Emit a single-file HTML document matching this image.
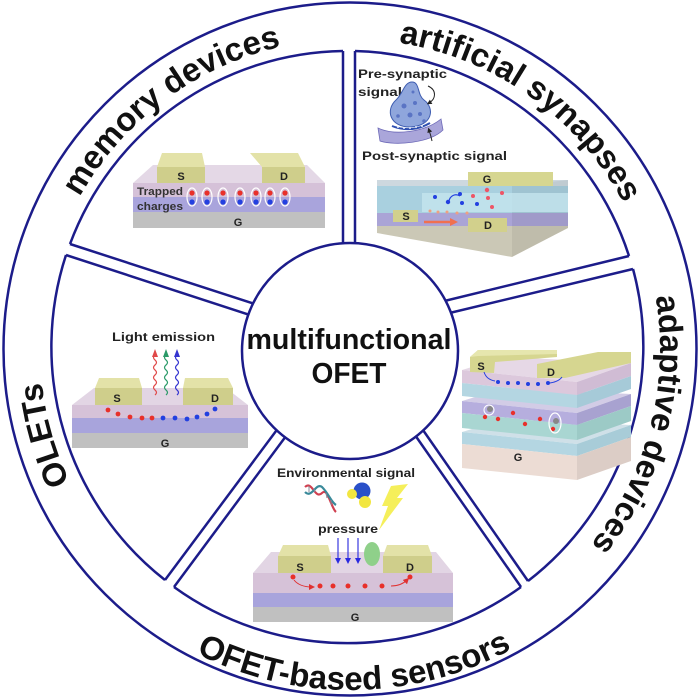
<!DOCTYPE html>
<html><head><meta charset="utf-8"><style>
html,body{margin:0;padding:0;background:#fff;}
svg{display:block;}
svg text{font-family:"Liberation Sans",Arial,sans-serif;}
</style></head><body>
<svg width="700" height="700" viewBox="0 0 700 700" xmlns="http://www.w3.org/2000/svg" font-family="Liberation Sans, Arial, sans-serif">
<defs>
<path id="cw" d="M 40,349 A 310 310 0 1 1 660,349 A 310 310 0 1 1 40,349"/>
<path id="ccw" d="M 9,349 A 341 341 0 0 0 691,349"/>
<clipPath id="synclip"><polygon points="377,180 568,180 568,228 512,257 377,233"/></clipPath>
<marker id="ah" markerWidth="6" markerHeight="6" refX="3" refY="3" orient="auto" markerUnits="userSpaceOnUse"><path d="M0,0 L6,3 L0,6 Z" fill="#2a2ae0"/></marker>
<marker id="ahr" markerWidth="6" markerHeight="6" refX="3" refY="3" orient="auto" markerUnits="userSpaceOnUse"><path d="M0,0 L6,3 L0,6 Z" fill="#e03030"/></marker>
<marker id="ahk" markerWidth="5" markerHeight="5" refX="2.5" refY="2.5" orient="auto" markerUnits="userSpaceOnUse"><path d="M0,0 L5,2.5 L0,5 Z" fill="#222"/></marker>
</defs>

<!-- outer circle -->
<circle cx="350" cy="349" r="346.5" fill="#fff" stroke="#1c1c8a" stroke-width="2.5"/>

<!-- panel arcs -->
<g fill="none" stroke="#1c1c8a" stroke-width="2.5">
<path d="M70,244 A296 296 0 0 1 343,51"/>
<path d="M355,51 A296 296 0 0 1 629,256"/>
<path d="M633,269 A296 296 0 0 1 528,581"/>
<path d="M521,587 A296 296 0 0 1 174,587"/>
<path d="M165,580 A296 296 0 0 1 66,255"/>
<!-- dividers -->
<line x1="343" y1="51" x2="343" y2="262"/>
<line x1="355" y1="51" x2="355" y2="262"/>
<line x1="70" y1="244" x2="264" y2="307"/>
<line x1="66" y1="255" x2="259" y2="318"/>
<line x1="629" y1="256" x2="432" y2="304"/>
<line x1="633" y1="269" x2="437" y2="316"/>
<line x1="165" y1="580" x2="282" y2="423"/>
<line x1="174" y1="587" x2="292" y2="428"/>
<line x1="521" y1="587" x2="408" y2="425"/>
<line x1="528" y1="581" x2="416" y2="420"/>
</g>

<!-- center circle -->
<circle cx="350" cy="351" r="108" fill="#fff" stroke="#1c1c8a" stroke-width="2.5"/>
<text x="349" y="349" font-size="29" font-weight="bold" text-anchor="middle" fill="#111" textLength="205" lengthAdjust="spacingAndGlyphs">multifunctional</text>
<text x="349" y="383" font-size="29" font-weight="bold" text-anchor="middle" fill="#111" textLength="75" lengthAdjust="spacingAndGlyphs">OFET</text>

<!-- ring labels -->
<g font-size="33" font-weight="bold" fill="#111">
<text><textPath href="#cw" startOffset="288" text-anchor="middle">memory devices</textPath></text>
<text><textPath href="#cw" startOffset="679" text-anchor="middle">artificial synapses</textPath></text>
<text><textPath href="#cw" startOffset="1053" text-anchor="middle">adaptive devices</textPath></text>
<text><textPath href="#cw" startOffset="1862" text-anchor="middle">OLETs</textPath></text>
<text><textPath href="#ccw" startOffset="540" text-anchor="middle">OFET-based sensors</textPath></text>
</g>

<!-- ===== memory device ===== -->
<g>
<polygon points="133,183 153,165 307,165 325,183" fill="#e4d8e6"/>
<rect x="133" y="183" width="192" height="14" fill="#d5c1d8"/>
<rect x="133" y="197" width="192" height="15" fill="#a9a4dc"/>
<rect x="133" y="212" width="192" height="16" fill="#c0c0c0"/>
<polygon points="157,167 162,153 202,153 205,167" fill="#e3e2a8"/>
<rect x="157" y="167" width="48" height="16" fill="#cfce8b"/>
<polygon points="262,167 250,153 298,153 305,167" fill="#e3e2a8"/>
<rect x="262" y="167" width="43" height="16" fill="#cfce8b"/>
<g font-size="11" font-weight="bold" fill="#222" text-anchor="middle">
<text x="181" y="180">S</text><text x="284" y="180">D</text><text x="238" y="226">G</text>
</g>
<g font-size="11" font-weight="bold" fill="#333">
<text x="137" y="195" textLength="46" lengthAdjust="spacingAndGlyphs">Trapped</text>
<text x="137" y="210" textLength="46" lengthAdjust="spacingAndGlyphs">charges</text>
</g>
<g>
<g fill="none" stroke="#fff" stroke-width="1.2">
<ellipse cx="192" cy="197" rx="5" ry="9"/><ellipse cx="207" cy="197" rx="5" ry="9"/><ellipse cx="223" cy="197" rx="5" ry="9"/><ellipse cx="240" cy="197" rx="5" ry="9"/><ellipse cx="256" cy="197" rx="5" ry="9"/><ellipse cx="270" cy="197" rx="5" ry="9"/><ellipse cx="285" cy="197" rx="5" ry="9"/>
</g>
<g fill="#e8302a">
<circle cx="192" cy="193" r="2.6"/><circle cx="207" cy="193" r="2.6"/><circle cx="223" cy="193" r="2.6"/><circle cx="240" cy="193" r="2.6"/><circle cx="256" cy="193" r="2.6"/><circle cx="270" cy="193" r="2.6"/><circle cx="285" cy="193" r="2.6"/>
</g>
<g fill="#2340e0">
<circle cx="192" cy="202" r="2.6"/><circle cx="207" cy="202" r="2.6"/><circle cx="223" cy="202" r="2.6"/><circle cx="240" cy="202" r="2.6"/><circle cx="256" cy="202" r="2.6"/><circle cx="270" cy="202" r="2.6"/><circle cx="285" cy="202" r="2.6"/>
</g>
</g>
</g>

<!-- ===== synapse panel ===== -->
<g>
<g font-size="11.5" font-weight="bold" fill="#222">
<text x="358" y="78" textLength="89" lengthAdjust="spacingAndGlyphs">Pre-synaptic</text>
<text x="358" y="96" textLength="44" lengthAdjust="spacingAndGlyphs">signal</text>
<text x="362" y="160" textLength="145" lengthAdjust="spacingAndGlyphs">Post-synaptic signal</text>
</g>
<path d="M378,128 C395,136 425,132 441,119 L443,130 C430,143 395,146 380,141 Z" fill="#aaa6da" stroke="#6e6ab8" stroke-width="0.8"/>
<path d="M412,82 C420,82 417,95 424,100 C435,108 433,126 410,127 C390,127 385,110 396,100 C403,94 404,82 412,82 Z" fill="#8fa6dc" stroke="#3d5cb0" stroke-width="1"/>
<path d="M392,126 C405,131 418,130 430,123" fill="none" stroke="#2f4fb0" stroke-width="2"/>
<g fill="#5a74c4">
<circle cx="404" cy="106" r="2.5"/><circle cx="415" cy="103" r="2"/><circle cx="410" cy="115" r="2.5"/><circle cx="420" cy="114" r="2"/><circle cx="398" cy="116" r="1.8"/><circle cx="413" cy="92" r="1.5"/><circle cx="424" cy="121" r="1.8"/>
</g>
<g fill="#e8f0ff"><circle cx="398" cy="127" r="1"/><circle cx="404" cy="128" r="1"/><circle cx="410" cy="128" r="1"/><circle cx="416" cy="127" r="1"/><circle cx="422" cy="126" r="1"/></g>
<path d="M428,86 C437,90 436,99 429,103" fill="none" stroke="#222" stroke-width="1" marker-end="url(#ahk)"/>
<path d="M432,141 C431,136 430,133 429,130" fill="none" stroke="#222" stroke-width="1" marker-end="url(#ahk)"/>

<g clip-path="url(#synclip)">
<rect x="377" y="176" width="191" height="10" fill="#cdd8df"/>
<rect x="377" y="186" width="191" height="27" fill="#a9d0df"/>
<rect x="377" y="213" width="191" height="13" fill="#aaa4d6"/>
<rect x="377" y="226" width="191" height="35" fill="#cbc8b6"/>
<polygon points="512,186 568,180 568,228 512,257" fill="#000" opacity="0.06"/>
</g>
<rect x="422" y="193" width="146" height="19" fill="#c4e5ee" opacity="0.8"/>
<rect x="468" y="172" width="85" height="14" fill="#d6d690"/>
<rect x="393" y="210" width="25" height="12" fill="#d2d08c"/>
<rect x="468" y="218" width="39" height="14" fill="#d2d08c"/>
<g font-size="11" font-weight="bold" fill="#222" text-anchor="middle">
<text x="487" y="183">G</text><text x="406" y="220">S</text><text x="488" y="229">D</text>
</g>
<g fill="#2340e0"><circle cx="435" cy="197" r="2"/><circle cx="460" cy="194" r="2"/><circle cx="462" cy="203" r="2"/><circle cx="477" cy="204" r="2"/><circle cx="448" cy="202" r="2.2"/></g>
<path d="M460,196 C455,193 450,196 449,201" fill="none" stroke="#2340e0" stroke-width="1.2"/>
<g fill="#ee5566"><circle cx="473" cy="196" r="2"/><circle cx="487" cy="190" r="2.2"/><circle cx="488" cy="198" r="2"/><circle cx="492" cy="207" r="2"/><circle cx="502" cy="193" r="2"/></g>
<g fill="#f0a080"><circle cx="430" cy="211" r="1.5"/><circle cx="438" cy="212" r="1.5"/><circle cx="447" cy="212" r="1.5"/><circle cx="457" cy="213" r="1.5"/><circle cx="467" cy="213" r="1.5"/></g>
<line x1="424" y1="222" x2="452" y2="222" stroke="#f07050" stroke-width="2.5"/>
<polygon points="450,218 458,222 450,226" fill="#f07050"/>
</g>

<!-- ===== adaptive device ===== -->
<g>
<!-- slab 3 -->
<polygon points="462,432 505,419 631,425 577,444" fill="#cfe0e8"/>
<polygon points="462,432 577,444 577,456 462,444" fill="#b4d6e2"/>
<polygon points="462,444 577,456 577,480 462,468" fill="#ecdcd4"/>
<polygon points="577,444 631,425 631,437 577,456" fill="#a8ccd8"/>
<polygon points="577,456 631,437 631,461 577,480" fill="#dccdc6"/>
<!-- slab 2 -->
<polygon points="462,401 505,388 631,394 577,413" fill="#d2cce6"/>
<polygon points="462,401 577,413 577,425 462,413" fill="#b6aede"/>
<polygon points="462,413 577,425 577,440 462,428" fill="#a9d6d2"/>
<polygon points="577,413 631,394 631,406 577,425" fill="#a8a2d0"/>
<polygon points="577,425 631,406 631,421 577,440" fill="#9ccac6"/>
<!-- slab 1 -->
<polygon points="462,370 505,357 631,363 577,382" fill="#e6d8e6"/>
<polygon points="462,370 577,382 577,395 462,383" fill="#dcc8dc"/>
<polygon points="462,383 577,395 577,408 462,396" fill="#b4d6e2"/>
<polygon points="577,382 631,363 631,376 577,395" fill="#d0bcd4"/>
<polygon points="577,395 631,376 631,389 577,408" fill="#a6cad8"/>
<!-- electrodes -->
<polygon points="470,357 478,350 557,350 557,357 495,362 494,373 470,372" fill="#d6d690"/>
<polygon points="537,364 598,352 631,352 631,363 565,378 537,378" fill="#d6d690"/>
<polygon points="470,357 478,350 557,350 557,354 478,356" fill="#e6e6ae"/>
<g font-size="11" font-weight="bold" fill="#222" text-anchor="middle">
<text x="481" y="370">S</text><text x="551" y="376">D</text><text x="518" y="461">G</text>
</g>
<g fill="#2340e0"><circle cx="498" cy="382" r="2"/><circle cx="508" cy="383" r="2"/><circle cx="518" cy="383" r="2"/><circle cx="528" cy="384" r="2"/><circle cx="538" cy="384" r="2"/><circle cx="548" cy="383" r="2"/></g>
<path d="M484,372 C486,378 490,380 495,381" fill="none" stroke="#2340e0" stroke-width="1"/>
<path d="M550,383 C556,382 560,380 562,377" fill="none" stroke="#2340e0" stroke-width="1"/>
<g fill="#e8302a"><circle cx="485" cy="417" r="2.2"/><circle cx="498" cy="419" r="2.2"/><circle cx="513" cy="413" r="2.2"/><circle cx="525" cy="424" r="2.2"/><circle cx="540" cy="419" r="2.2"/><circle cx="553" cy="429" r="2.2"/></g>
<g fill="#888"><circle cx="490" cy="409" r="3"/><circle cx="556" cy="421" r="3"/></g>
<ellipse cx="555" cy="423" rx="6" ry="10" fill="none" stroke="#fff" stroke-width="1.2"/>
<ellipse cx="489" cy="410" rx="5" ry="5" fill="none" stroke="#fff" stroke-width="1"/>
</g>

<!-- ===== OLET device ===== -->
<g>
<text x="112" y="341" font-size="12" font-weight="bold" fill="#222" textLength="103" lengthAdjust="spacingAndGlyphs">Light emission</text>
<polygon points="72,405 94,388 226,388 248,405" fill="#e2d5e4"/>
<rect x="72" y="405" width="176" height="13" fill="#d6c2d8"/>
<rect x="72" y="418" width="176" height="15" fill="#a8a4dc"/>
<rect x="72" y="433" width="176" height="15" fill="#c0c0c0"/>
<polygon points="95,388 99,378 139,378 142,388" fill="#e3e2a8"/>
<rect x="95" y="388" width="47" height="17" fill="#cfce8b"/>
<polygon points="183,388 185,378 228,378 233,388" fill="#e3e2a8"/>
<rect x="183" y="388" width="50" height="17" fill="#cfce8b"/>
<g font-size="11" font-weight="bold" fill="#222" text-anchor="middle">
<text x="117" y="402">S</text><text x="215" y="402">D</text><text x="165" y="447">G</text>
</g>
<g fill="none" stroke-width="1.2">
<path d="M155,395 q3,-2.5 0,-5 t0,-5 t0,-5 t0,-5 t0,-5 t0,-5 t0,-5 t0,-5" stroke="#e04848"/>
<path d="M166,395 q3,-2.5 0,-5 t0,-5 t0,-5 t0,-5 t0,-5 t0,-5 t0,-5 t0,-5" stroke="#2a9a68"/>
<path d="M177,395 q3,-2.5 0,-5 t0,-5 t0,-5 t0,-5 t0,-5 t0,-5 t0,-5 t0,-5" stroke="#3434d0"/>
</g>
<polygon points="152,357 158,357 155,349" fill="#e04848"/>
<polygon points="163,357 169,357 166,349" fill="#2a9a68"/>
<polygon points="174,357 180,357 177,349" fill="#3434d0"/>
<g fill="#e8302a"><circle cx="108" cy="410" r="2.4"/><circle cx="118" cy="414" r="2.4"/><circle cx="130" cy="417" r="2.4"/><circle cx="142" cy="418" r="2.4"/><circle cx="152" cy="418" r="2.4"/></g>
<g fill="#2340e0"><circle cx="163" cy="418" r="2.4"/><circle cx="175" cy="418" r="2.4"/><circle cx="187" cy="419" r="2.4"/><circle cx="197" cy="417" r="2.4"/><circle cx="207" cy="414" r="2.4"/><circle cx="215" cy="409" r="2.4"/></g>
</g>

<!-- ===== sensor device ===== -->
<g>
<text x="277" y="477" font-size="12" font-weight="bold" fill="#222" textLength="138" lengthAdjust="spacingAndGlyphs">Environmental signal</text>
<text x="318" y="533" font-size="12" font-weight="bold" fill="#222" textLength="60" lengthAdjust="spacingAndGlyphs">pressure</text>
<!-- DNA -->
<path d="M305,487 C312,480 315,500 322,493 C328,487 331,508 336,512" fill="none" stroke="#d04050" stroke-width="2.2"/>
<path d="M305,492 C312,499 316,482 322,487 C329,494 331,502 336,505" fill="none" stroke="#3a8a9a" stroke-width="2.2"/>
<g stroke="#8a8a9a" stroke-width="1"><line x1="309" y1="486" x2="309" y2="492"/><line x1="314" y1="489" x2="315" y2="492"/><line x1="326" y1="493" x2="327" y2="498"/><line x1="331" y1="500" x2="331" y2="505"/></g>
<!-- molecule -->
<circle cx="362" cy="491" r="8.5" fill="#2a50c8"/>
<circle cx="352" cy="494" r="5" fill="#f2e640"/>
<circle cx="365" cy="502" r="6" fill="#f2e640"/>
<!-- lightning -->
<polygon points="391,486 408,484 397,498 403,498 379,530 388,506 382,506" fill="#f5ef5a"/>
<!-- device -->
<polygon points="253,573 271,552 436,552 453,573" fill="#e2d5e4"/>
<rect x="253" y="573" width="200" height="20" fill="#d6c2d8"/>
<rect x="253" y="593" width="200" height="14" fill="#a8a4dc"/>
<rect x="253" y="607" width="200" height="15" fill="#c0c0c0"/>
<polygon points="278,556 283,545 328,545 331,556" fill="#e3e2a8"/>
<rect x="278" y="556" width="53" height="17" fill="#cfce8b"/>
<polygon points="383,556 387,545 428,545 432,556" fill="#e3e2a8"/>
<rect x="383" y="556" width="49" height="17" fill="#cfce8b"/>
<ellipse cx="372" cy="554" rx="8" ry="12" fill="#8fd08a"/>
<g stroke="#3a3ae0" stroke-width="1.2">
<line x1="338" y1="538" x2="338" y2="561" marker-end="url(#ah)"/>
<line x1="348" y1="538" x2="348" y2="561" marker-end="url(#ah)"/>
<line x1="358" y1="538" x2="358" y2="561" marker-end="url(#ah)"/>
</g>
<g font-size="11" font-weight="bold" fill="#222" text-anchor="middle">
<text x="300" y="571">S</text><text x="410" y="571">D</text><text x="355" y="621">G</text>
</g>
<g fill="#e8302a"><circle cx="293" cy="577" r="2.5"/><circle cx="320" cy="586" r="2.5"/><circle cx="333" cy="586" r="2.5"/><circle cx="348" cy="586" r="2.5"/><circle cx="365" cy="586" r="2.5"/><circle cx="382" cy="586" r="2.5"/><circle cx="410" cy="577" r="2.5"/></g>
<path d="M294,580 C298,585 304,587 312,587" fill="none" stroke="#e03030" stroke-width="1" marker-end="url(#ahr)"/>
<path d="M391,586 C399,586 404,583 407,580" fill="none" stroke="#e03030" stroke-width="1" marker-end="url(#ahr)"/>
</g>
</svg>
</body></html>
